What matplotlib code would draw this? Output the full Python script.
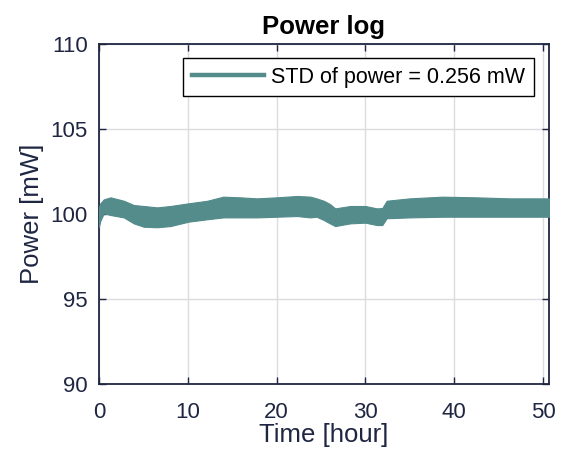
import matplotlib
matplotlib.use("Agg")
import matplotlib.pyplot as plt
from matplotlib.lines import Line2D

# Envelope of the (dense, noisy) power trace
time_h = [0.0, 0.15, 0.54, 1.29, 2.79, 3.91, 5.04, 6.55, 8.04, 10.1, 12.2, 14.0,
          15.9, 17.8, 20.0, 22.3, 23.8, 24.5, 25.3, 26.0, 26.6, 28.3, 30.0, 31.3,
          31.9, 32.4, 35.0, 38.7, 42.5, 46.3, 50.68]
power_top = [100.40, 100.63, 100.86, 100.98, 100.78, 100.53, 100.47, 100.39, 100.47,
             100.63, 100.78, 101.02, 100.98, 100.92, 100.98, 101.06, 101.02, 100.92,
             100.78, 100.59, 100.33, 100.47, 100.47, 100.33, 100.35, 100.78, 100.92,
             101.02, 100.98, 100.92, 100.92]
power_bot = [99.25, 99.60, 100.04, 99.94, 99.80, 99.45, 99.25, 99.22, 99.29,
             99.55, 99.69, 99.80, 99.80, 99.80, 99.84, 99.88, 99.80, 99.84,
             99.65, 99.45, 99.29, 99.45, 99.49, 99.35, 99.35, 99.75, 99.80,
             99.84, 99.84, 99.84, 99.84]
legend_label = "STD of power = 0.256 mW"
x_ticks = [0, 10, 20, 30, 40, 50]
y_ticks = [90, 95, 100, 105, 110]

teal = "#548b8b"
navy = "#1f2642"

plt.rcParams['font.family'] = ['Liberation Sans', 'DejaVu Sans']

fig = plt.figure(figsize=(5.63, 4.53), dpi=100)
ax = fig.add_axes([99/563, 69/453, 450/563, 340/453])

ax.fill_between(time_h, power_bot, power_top, color=teal, linewidth=0.8,
                edgecolor=teal, zorder=3)

ax.set_xlim(0, 50.68)
ax.set_ylim(90, 110)
ax.set_xticks(x_ticks)
ax.set_yticks(y_ticks)
ax.grid(True, color="#dcdce0", linewidth=1.0, zorder=0)
ax.set_axisbelow(True)

for s in ax.spines.values():
    s.set_color(navy)
    s.set_linewidth(1.3)
ax.tick_params(direction='in', top=True, right=True, length=5, width=1.0,
               colors=navy, labelsize=16)
ax.tick_params(axis='x', pad=13)
ax.tick_params(axis='y', pad=8)

ax.set_xlabel("Time [hour]", fontsize=18.5, color=navy, labelpad=0)
ax.set_ylabel("Power [mW]", fontsize=18.5, color=navy, labelpad=5)
ax.set_title("Power log", fontsize=18.5, fontweight='bold', color='black', pad=7)

handle = Line2D([0], [0], color=teal, linewidth=3.2)
leg = ax.legend([handle], [legend_label], loc='upper right',
                bbox_to_anchor=(0.9667, 0.9588), borderaxespad=0,
                fontsize=15.5, frameon=True, fancybox=False, framealpha=1,
                edgecolor='black', handlelength=3.35, handletextpad=0.35,
                borderpad=0.4)
leg.get_frame().set_linewidth(1.0)
for t in leg.get_texts():
    t.set_color('black')

fig.savefig("out.png", dpi=100, facecolor='white')
